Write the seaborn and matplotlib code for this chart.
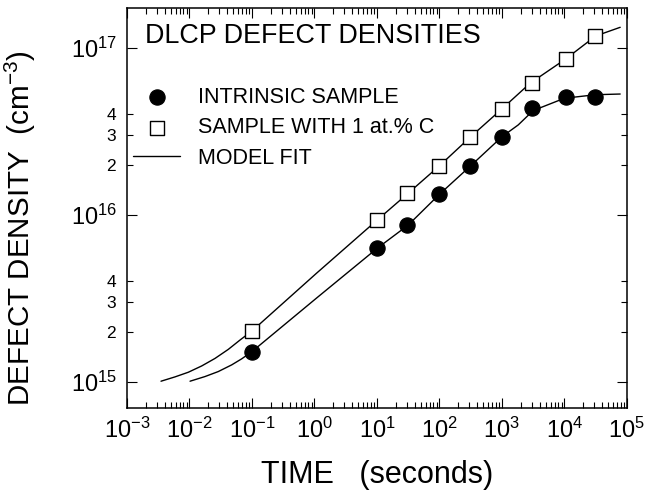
import numpy as np
import matplotlib
matplotlib.use('Agg')
import matplotlib.pyplot as plt
from matplotlib.ticker import LogLocator, NullFormatter, FixedLocator, FixedFormatter
import seaborn as sns

# data (time in s, density in cm^-3)
time_pts = [0.1, 10, 30, 100, 310, 1000, 3000, 10500, 31000]
intrinsic = [1.52e15, 6.3e15, 8.7e15, 1.33e16, 1.97e16, 2.94e16, 4.35e16, 5.1e16, 5.07e16]
carbon = [2.02e15, 9.3e15, 1.35e16, 1.97e16, 2.94e16, 4.3e16, 6.15e16, 8.6e16, 1.18e17]

# model fit curves
fit_time_c = [3.5e-3, 5.86e-3, 9.57e-3, 1.57e-2, 2.56e-2, 4.18e-2, 6.43e-2, 0.1, 1.08, 10, 31.6,
              100, 316, 1000, 2820, 1.05e4, 3.16e4, 7.8e4]
fit_c = [1.01e15, 1.072e15, 1.143e15, 1.247e15, 1.383e15, 1.567e15, 1.782e15, 2.02e15, 4.48e15,
         9.3e15, 1.35e16, 1.97e16, 2.94e16, 4.32e16, 6.15e16, 8.6e16, 1.18e17, 1.33e17]
fit_time_i = [1.02e-2, 1.77e-2, 2.89e-2, 4.73e-2, 6.84e-2, 0.1, 1.08, 10, 31.6, 100, 316, 1000,
              1820, 3160, 1e4, 3.16e4, 7.8e4]
fit_i = [1.01e15, 1.077e15, 1.154e15, 1.265e15, 1.375e15, 1.52e15, 3.18e15, 6.3e15, 8.7e15,
         1.33e16, 1.97e16, 2.94e16, 3.46e16, 4.22e16, 5.0e16, 5.25e16, 5.3e16]

x_major = [1e-3, 1e-2, 1e-1, 1e0, 1e1, 1e2, 1e3, 1e4, 1e5]
x_labels = [r'$\mathregular{10^{%d}}$' % k for k in range(-3, 6)]
y_major = [1e15, 1e16, 1e17]
y_labels = [r'$\mathregular{10^{%d}}$' % k for k in (15, 16, 17)]
y_minor = [2e15, 3e15, 4e15, 2e16, 3e16, 4e16]
y_minor_labels = ['2', '3', '4', '2', '3', '4']

sns.set_style('ticks')
plt.rcParams['font.family'] = ['Liberation Sans', 'DejaVu Sans']
plt.rcParams['mathtext.fontset'] = 'custom'
plt.rcParams['mathtext.rm'] = 'Liberation Sans'
plt.rcParams['mathtext.it'] = 'Liberation Sans:italic'
plt.rcParams['mathtext.bf'] = 'Liberation Sans:bold'
for key in ['text.color', 'axes.labelcolor', 'xtick.color', 'ytick.color', 'axes.edgecolor']:
    plt.rcParams[key] = 'black'

fig, ax = plt.subplots(figsize=(6.49, 4.93), dpi=100)
fig.subplots_adjust(left=0.1957, right=0.966, bottom=0.1724, top=0.9838)
ax.set(xscale='log', yscale='log')

sns.lineplot(x=fit_time_c, y=fit_c, ax=ax, color='black', lw=1, sort=False,
             estimator=None, label='MODEL FIT')
sns.lineplot(x=fit_time_i, y=fit_i, ax=ax, color='black', lw=1, sort=False,
             estimator=None, legend=False)
sns.scatterplot(x=time_pts, y=intrinsic, ax=ax, marker='o', s=120, color='black',
                edgecolor='black', label='INTRINSIC SAMPLE', zorder=3)
sns.scatterplot(x=time_pts, y=carbon, ax=ax, marker='s', s=115, facecolor='white',
                edgecolor='black', linewidth=1, label='SAMPLE WITH 1 at.% C', zorder=3)

ax.set_xlim(1e-3, 1e5)
ax.set_ylim(6.98e14, 1.736e17)

ax.xaxis.set_major_locator(FixedLocator(x_major))
ax.xaxis.set_major_formatter(FixedFormatter(x_labels))
ax.xaxis.set_minor_locator(LogLocator(base=10, subs=np.arange(2, 10), numticks=20))
ax.xaxis.set_minor_formatter(NullFormatter())
ax.yaxis.set_major_locator(FixedLocator(y_major))
ax.yaxis.set_major_formatter(FixedFormatter(y_labels))
ax.yaxis.set_minor_locator(FixedLocator(y_minor))
ax.yaxis.set_minor_formatter(FixedFormatter(y_minor_labels))

ax.tick_params(which='both', direction='in', top=True, right=True, width=0.8)
ax.tick_params(which='major', length=7, labelsize=17, pad=7)
ax.tick_params(axis='y', which='minor', length=4, labelsize=12.5, pad=8)
ax.tick_params(axis='x', which='minor', length=4)
for sp in ax.spines.values():
    sp.set_linewidth(1.1)

ax.set_xlabel('TIME   (seconds)', fontsize=22, labelpad=12)
ax.set_ylabel(r'DEFECT DENSITY  (cm$^{\mathregular{-3}}$)', fontsize=21.3)
ax.yaxis.set_label_coords(-0.178, 0.45)

ax.text(0.036, 0.962, 'DLCP DEFECT DENSITIES', transform=ax.transAxes,
        fontsize=19.4, va='top', ha='left')

handles, labels = ax.get_legend_handles_labels()
order = [labels.index('INTRINSIC SAMPLE'), labels.index('SAMPLE WITH 1 at.% C'),
         labels.index('MODEL FIT')]
ax.legend([handles[i] for i in order], [labels[i] for i in order],
          loc='upper left', bbox_to_anchor=(0.012, 0.8025), frameon=False,
          fontsize=15.5, handlelength=2.2, handletextpad=0.8, labelspacing=0.44,
          borderaxespad=0, borderpad=0)

fig.savefig('out.png', dpi=100)
